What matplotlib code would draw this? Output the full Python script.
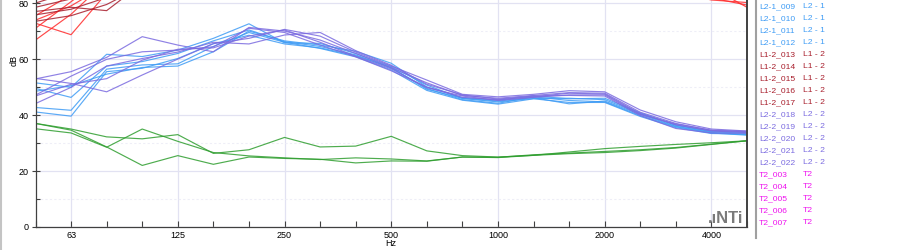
import matplotlib
matplotlib.use("Agg")
import matplotlib.pyplot as plt
from matplotlib.lines import Line2D
import numpy as np

# third-octave band centres (Hz)
bands = [50, 63, 80, 100, 125, 160, 200, 250, 315, 400, 500,
         630, 800, 1000, 1250, 1600, 2000, 2500, 3150, 4000, 5000]
octave_labels = {63: "63", 125: "125", 250: "250", 500: "500",
                 1000: "1000", 2000: "2000", 4000: "4000"}

# L1-1 (bright red), mostly above the visible range
l1_1 = [
    [72.8, 68.7, 83.6, 91, 94, 96, 97, 96, 95, 94, 93, 92, 91, 90, 90, 89, 88, 86, 84, 81.1, 80.2],
    [66.8, 76.0, 88.0, 92, 95, 97, 98, 97, 96, 95, 94, 93, 92, 91, 90, 90, 89, 87, 85, 81.8, 79.3],
    [73.9, 79.0, 86.5, 90, 93, 95, 96, 95, 94, 93, 92, 91, 90, 90, 89, 89, 88, 87, 86, 85.5, 78.5],
    [71.0, 80.5, 90.0, 94, 96, 98, 99, 98, 97, 96, 95, 94, 93, 92, 92, 91, 90, 89, 88, 86.0, 83.5],
    [75.5, 83.0, 89.0, 93, 95, 97, 98, 97, 96, 95, 94, 93, 92, 92, 91, 91, 90, 89, 88, 86.5, 84.0],
]
# L1-2 (dark red)
l1_2 = [
    [80.0, 84.0, 90.0, 94, 96, 98, 99, 98, 97, 96, 95, 94, 93, 93, 92, 92, 91, 90, 89, 88, 87],
    [77.0, 78.5, 77.3, 87, 92, 95, 97, 96, 95, 94, 93, 92, 91, 91, 90, 90, 89, 88, 87, 86, 85],
    [75.8, 77.8, 82.0, 89, 93, 96, 97, 96, 95, 94, 93, 92, 92, 91, 91, 90, 90, 89, 88, 87, 86],
    [78.5, 81.5, 88.0, 92, 95, 97, 98, 97, 96, 95, 94, 93, 92, 92, 91, 91, 90, 89, 88, 87, 86],
    [73.5, 75.5, 79.5, 86, 91, 94, 96, 95, 94, 93, 92, 91, 90, 90, 89, 89, 88, 87, 86, 85, 84],
]
# L2-1 (light blue)
l2_1 = [
    [51.5, 49.9, 61.7, 60.9, 63.2, 67.4, 72.6, 65.8, 65.6, 62.0, 57.3, 50.7, 45.9, 44.7, 45.9, 46.0, 45.5, 40.5, 36.5, 34.0, 33.5],
    [49.5, 46.3, 57.5, 59.1, 62.0, 66.5, 70.4, 66.2, 64.5, 61.5, 56.8, 49.5, 45.5, 44.2, 46.5, 45.2, 44.7, 39.8, 35.8, 33.6, 32.8],
    [42.7, 41.7, 56.4, 57.9, 58.3, 64.5, 69.5, 66.0, 63.8, 60.8, 56.1, 48.8, 45.3, 43.9, 45.8, 44.5, 44.5, 39.5, 35.5, 33.4, 33.2],
    [41.1, 39.6, 55.5, 56.7, 60.2, 65.5, 68.5, 65.4, 64.0, 61.2, 57.0, 49.2, 46.0, 45.0, 46.2, 44.0, 45.0, 40.2, 36.0, 33.8, 33.0],
    [48.5, 50.5, 54.6, 57.0, 57.5, 62.6, 70.0, 66.5, 65.0, 62.8, 58.5, 50.0, 46.2, 45.3, 46.8, 45.8, 46.0, 40.8, 36.3, 34.2, 33.8],
]
# L2-2 (purple)
l2_2 = [
    [53.1, 51.3, 48.3, 54.3, 60.0, 65.5, 67.4, 70.6, 68.2, 62.5, 57.5, 52.5, 47.4, 46.5, 47.4, 48.7, 48.3, 41.8, 37.6, 35.0, 34.3],
    [52.9, 55.5, 60.6, 68.0, 65.0, 62.6, 71.3, 70.0, 66.8, 62.0, 56.9, 51.5, 47.0, 46.0, 47.0, 48.0, 47.8, 41.0, 37.0, 34.5, 34.0],
    [47.1, 53.9, 59.9, 62.6, 63.2, 64.4, 71.0, 69.5, 65.0, 60.8, 55.8, 50.0, 46.3, 45.5, 46.5, 47.8, 47.5, 40.5, 36.5, 34.3, 33.8],
    [44.1, 49.9, 57.5, 60.2, 62.5, 66.0, 65.4, 68.6, 69.5, 63.0, 57.8, 51.0, 47.2, 45.7, 46.8, 47.0, 46.8, 39.8, 35.2, 33.6, 33.5],
    [46.8, 51.0, 53.0, 59.6, 63.5, 64.0, 68.2, 70.4, 66.0, 61.0, 56.5, 49.8, 46.8, 45.2, 46.3, 47.2, 47.2, 40.2, 36.8, 34.6, 34.2],
]
# background (green)
bg = [
    [37.0, 34.6, 28.6, 22.0, 25.5, 22.4, 25.0, 24.5, 24.2, 22.9, 23.6, 23.5, 25.0, 24.9, 25.8, 26.4, 27.0, 27.6, 28.4, 29.6, 30.8],
    [37.0, 35.0, 32.2, 31.5, 33.0, 26.3, 27.6, 32.0, 28.6, 28.9, 32.4, 27.2, 25.5, 25.0, 25.6, 26.8, 28.0, 28.8, 29.5, 30.1, 30.8],
    [35.1, 33.6, 28.5, 35.0, 30.6, 26.6, 25.4, 24.7, 24.1, 24.7, 24.3, 23.6, 25.0, 24.8, 25.6, 26.2, 26.6, 27.3, 28.2, 29.5, 30.8],
]

# legend rows visible in the side panel
legend_names = ["L2-1_009", "L2-1_010", "L2-1_011", "L2-1_012",
                "L1-2_013", "L1-2_014", "L1-2_015", "L1-2_016", "L1-2_017",
                "L2-2_018", "L2-2_019", "L2-2_020", "L2-2_021", "L2-2_022",
                "T2_003", "T2_004", "T2_005", "T2_006", "T2_007"]
legend_groups = ["L2 - 1"] * 4 + ["L1 - 2"] * 5 + ["L2 - 2"] * 5 + ["T2"] * 5

colors = {"L1 - 1": "#ff2a2a", "L1 - 2": "#a81e2c", "L2 - 1": "#3f9cf5",
          "L2 - 2": "#7b6be0", "T2": "#ee10ee", "bg": "#2f9e2f"}

plt.rcParams["font.family"] = ["Liberation Sans", "DejaVu Sans"]

W, H = 900, 250
fig = plt.figure(figsize=(9, 2.5), dpi=100)
ax = fig.add_axes([35.5 / W, 23 / H, 711.5 / W, 227 / H])

x = np.arange(len(bands))
for series, key in [(l1_1, "L1 - 1"), (l1_2, "L1 - 2"), (bg, "bg"),
                    (l2_1, "L2 - 1"), (l2_2, "L2 - 2")]:
    for ys in series:
        ax.plot(x, ys, color=colors[key], lw=0.85, alpha=0.85)

ax.set_xlim(0, len(bands) - 1)
ax.set_ylim(0, 81.1)

ax.set_xticks(x)
ax.set_xticklabels([octave_labels.get(b, "") for b in bands])
ax.set_yticks([0, 20, 40, 60, 80])
ax.set_yticks([10, 30, 50, 70], minor=True)
ax.tick_params(axis="x", direction="in", length=4, width=0.8, color="#404040",
               labelsize=6.5, pad=3)
ax.tick_params(axis="y", which="major", direction="inout", length=6, width=0.8,
               color="#404040", labelsize=6.5, pad=2)
ax.tick_params(axis="y", which="minor", direction="in", length=3, width=0.8,
               color="#404040")

# grid: octave verticals, 20 dB majors, faint 10 dB minors
for b in octave_labels:
    ax.axvline(bands.index(b), color="#e2e2f2", lw=0.9, zorder=0)
ax.grid(axis="y", which="major", color="#e2e2f2", lw=0.9)
ax.grid(axis="y", which="minor", color="#eeeef7", lw=0.8, ls=(0, (2, 2)))
ax.set_axisbelow(True)

for side in ["left", "bottom", "right"]:
    ax.spines[side].set_color("#404040")
    ax.spines[side].set_linewidth(0.9)
ax.spines["right"].set_linewidth(1.4)
ax.spines["top"].set_visible(False)

fig.text(14 / W, 1 - 60 / H, "dB", rotation=90, fontsize=6.5, ha="center", va="center")
fig.text(391 / W, 1 - 243 / H, "Hz", fontsize=6.5, ha="center", va="center")

# NTi watermark
fig.text(743 / W, 1 - 223 / H, ".ıNTi", fontsize=12, fontweight="bold",
         color="#7a7a7a", ha="right", va="baseline")

# panel borders
fig.add_artist(Line2D([755.5 / W] * 2, [1, 1 - 238 / H], color="#a0a0a0", lw=1.5))
fig.add_artist(Line2D([1 / W] * 2, [0, 1], color="#c4c4c4", lw=1.5))

# legend rows
for i, (name, grp) in enumerate(zip(legend_names, legend_groups)):
    yy = 1 - (6.7 + 12.0 * i) / H
    fig.text(759 / W, yy, name, color=colors[grp], fontsize=6.1, va="center")
    fig.text(803 / W, yy, grp, color=colors[grp], fontsize=6.1, va="center")

fig.savefig("out.png", dpi=100)
plt.close(fig)
